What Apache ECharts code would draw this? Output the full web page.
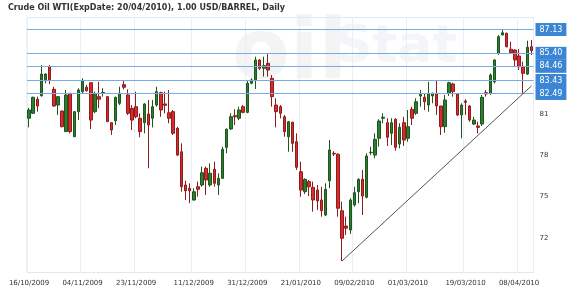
<!DOCTYPE html>
<html><head><meta charset="utf-8">
<script src="https://cdn.jsdelivr.net/npm/echarts@6/dist/echarts.min.js"></script>
<style>html,body{margin:0;padding:0;background:#fff}#c{width:570px;height:291px}</style>
</head><body><div id="c"></div>
<script>
var dates = ['16/10/2009','19/10/2009','20/10/2009','21/10/2009','22/10/2009','23/10/2009','26/10/2009','27/10/2009','28/10/2009','29/10/2009','30/10/2009',
'02/11/2009','03/11/2009','04/11/2009','05/11/2009','06/11/2009','09/11/2009','10/11/2009','11/11/2009','12/11/2009','13/11/2009',
'16/11/2009','17/11/2009','18/11/2009','19/11/2009','20/11/2009','23/11/2009','24/11/2009','25/11/2009','26/11/2009','27/11/2009',
'30/11/2009','01/12/2009','02/12/2009','03/12/2009','04/12/2009','07/12/2009','08/12/2009','09/12/2009','10/12/2009','11/12/2009',
'14/12/2009','15/12/2009','16/12/2009','17/12/2009','18/12/2009','21/12/2009','22/12/2009','23/12/2009','24/12/2009','28/12/2009',
'29/12/2009','30/12/2009','31/12/2009','04/01/2010','05/01/2010','06/01/2010','07/01/2010','08/01/2010','11/01/2010','12/01/2010',
'13/01/2010','14/01/2010','15/01/2010','19/01/2010','20/01/2010','21/01/2010','22/01/2010','25/01/2010','26/01/2010','27/01/2010',
'28/01/2010','29/01/2010','01/02/2010','02/02/2010','03/02/2010','04/02/2010','05/02/2010','08/02/2010','09/02/2010','10/02/2010',
'11/02/2010','12/02/2010','16/02/2010','17/02/2010','18/02/2010','19/02/2010','22/02/2010','23/02/2010','24/02/2010','25/02/2010',
'26/02/2010','01/03/2010','02/03/2010','03/03/2010','04/03/2010','05/03/2010','08/03/2010','09/03/2010','10/03/2010','11/03/2010',
'12/03/2010','15/03/2010','16/03/2010','17/03/2010','18/03/2010','19/03/2010','22/03/2010','23/03/2010','24/03/2010','25/03/2010',
'26/03/2010','29/03/2010','30/03/2010','31/03/2010','01/04/2010','05/04/2010','06/04/2010','07/04/2010','08/04/2010','09/04/2010',
'12/04/2010','13/04/2010'];

var opens = [80.69,81.05,82.07,82.33,83.42,84.43,82.79,81.65,81.22,79.72,82.50,79.35,81.17,82.62,82.94,83.27,81.17,82.26,82.52,82.26,
80.37,80.51,81.78,83.13,82.38,81.41,81.53,80.69,80.37,81.00,80.69,81.65,82.55,81.73,81.09,81.17,79.96,78.26,75.85,75.61,
74.76,75.72,75.85,77.06,75.85,76.99,75.85,76.33,78.58,79.91,80.88,80.69,81.53,81.12,83.23,83.42,84.92,84.32,84.68,83.59,
81.65,81.53,80.80,79.35,80.40,78.99,76.81,75.36,76.09,75.68,75.48,74.76,73.67,76.16,78.15,78.08,73.98,72.87,72.58,74.40,
75.36,76.26,74.96,78.20,78.02,79.24,80.69,80.37,79.60,80.62,78.82,80.37,79.24,81.34,81.05,82.31,82.21,81.65,82.31,82.50,
81.58,80.08,82.50,83.18,82.45,80.93,81.94,81.58,80.27,80.13,80.27,82.55,82.50,83.34,85.40,86.73,86.86,85.70,85.64,85.21,
84.43,83.90,85.88];
var closes = [81.29,82.21,81.58,83.90,83.90,83.47,81.58,82.26,80.08,82.38,79.72,81.17,82.74,83.42,82.69,80.56,82.50,82.07,82.56,80.44,
79.84,82.21,82.50,82.94,81.05,80.56,80.80,79.72,81.73,80.20,81.53,82.62,81.29,81.63,80.69,79.60,78.02,75.72,75.43,75.43,
75.36,75.54,76.74,76.21,76.70,75.97,76.33,78.44,79.89,80.80,80.80,81.29,81.12,83.23,83.47,84.92,84.32,84.51,84.19,82.26,
81.17,81.05,79.72,80.44,78.87,77.13,75.48,76.26,75.72,74.76,74.69,73.98,75.54,78.39,78.10,74.16,71.98,72.71,74.76,75.29,
76.26,75.05,77.95,78.22,79.16,80.49,80.76,79.31,80.37,78.58,80.03,79.11,80.08,80.69,81.89,82.43,81.89,82.50,82.50,81.58,
80.08,82.02,83.27,82.62,80.93,81.65,81.85,80.56,80.56,80.03,82.21,82.45,83.83,84.92,86.61,86.90,85.88,85.45,84.92,84.43,
83.95,85.84,85.59];
var lows = [80.03,81.00,81.17,82.26,83.23,83.16,81.53,80.93,80.03,79.72,79.60,79.35,80.56,82.50,82.62,79.91,81.05,81.41,82.26,80.44,
79.48,80.20,81.65,82.79,80.93,79.84,80.69,79.31,79.60,77.06,80.03,81.53,80.80,81.05,80.33,79.48,77.95,75.36,74.76,74.52,
74.71,75.00,75.72,75.12,75.72,75.72,75.12,76.28,78.15,79.84,80.20,80.56,81.05,81.05,83.16,82.81,84.19,83.71,83.71,81.53,
80.03,80.69,79.35,78.26,78.26,76.94,75.00,75.19,75.05,73.91,74.03,73.55,73.60,75.61,77.95,73.55,70.33,72.22,72.30,74.27,
74.52,73.67,74.88,78.02,77.79,78.63,80.33,78.68,78.75,78.34,78.51,78.68,78.99,80.20,80.93,81.53,81.29,81.17,81.78,80.93,
79.48,79.64,82.31,82.26,80.85,79.24,80.93,80.44,80.20,79.60,80.13,82.26,82.38,83.23,85.28,86.73,85.84,85.40,84.48,84.19,
82.49,83.83,85.28];
var highs = [81.44,82.26,82.26,84.56,83.95,84.56,82.98,82.26,81.22,82.74,82.50,81.17,82.87,83.59,83.10,83.27,82.62,83.34,82.87,82.26,
80.37,82.26,82.98,83.42,82.79,81.65,82.62,81.05,81.78,82.02,82.02,82.98,82.62,82.62,82.74,81.29,80.08,78.87,76.16,75.97,
75.61,76.09,77.18,77.18,77.42,77.54,76.70,78.63,79.96,81.05,81.34,81.53,81.65,83.47,83.59,85.16,84.97,85.16,85.40,83.83,
82.14,81.65,80.93,80.50,80.45,79.60,77.54,76.33,76.21,76.09,75.85,75.72,75.97,79.11,78.30,78.15,74.64,73.55,74.88,75.72,
76.33,76.94,78.15,78.63,79.60,80.62,81.05,80.69,80.69,80.69,80.33,80.80,81.29,81.53,82.14,82.74,82.50,83.34,82.55,83.42,
81.58,82.38,83.34,83.27,82.50,81.78,82.07,81.65,80.80,80.44,82.38,82.74,83.95,84.97,86.73,87.13,86.90,86.25,85.70,85.70,
84.80,86.32,86.37];

var tickLabels = ['16/10/2009','04/11/2009','23/11/2009','11/12/2009','31/12/2009','21/01/2010','09/02/2010','01/03/2010','19/03/2010','08/04/2010'];
var yLabels = [72, 75, 78, 81];
var levels = [87.13, 85.40, 84.46, 83.43, 82.49];
var trendPoints = [['04/02/2010', 70.33], ['13/04/2010', 83.04]];

var ohlc = dates.map(function (d, i) { return [opens[i], closes[i], lows[i], highs[i]]; });
var isTick = function (i, v) { return tickLabels.indexOf(v !== undefined ? v : dates[i]) >= 0; };

var markData = levels.map(function (v) {
  return { yAxis: v, lineStyle: { color: '#78acdf', width: 1, type: 'solid' },
    label: { show: true, position: 'end', distance: 2, formatter: v.toFixed(2),
      backgroundColor: '#3a86d4', color: '#ffffff', fontSize: 8, fontFamily: 'DejaVu Sans',
      padding: [1, 4], lineHeight: 11 } };
});
markData.push([
  { coord: trendPoints[0], lineStyle: { color: '#555', width: 1, type: 'solid' }, label: { show: false } },
  { coord: trendPoints[1] }
]);

var chart = echarts.init(document.getElementById('c'), null, { renderer: 'canvas' });
chart.setOption({
  animation: false,
  backgroundColor: '#ffffff',
  title: { text: 'Crude Oil WTI(ExpDate: 20/04/2010), 1.00 USD/BARREL, Daily', left: 8, top: 4, padding: 0,
    textStyle: { fontSize: 8, fontWeight: 'bold', color: '#333', fontFamily: 'DejaVu Sans' } },
  graphic: [
    { type: 'text', left: 232, top: 14, z: -10, silent: true,
      style: { text: 'oil', fontSize: 84, fontWeight: 'bold', fill: '#f4f4f4', fontFamily: 'DejaVu Sans' } },
    { type: 'text', left: 335, top: 22, z: -10, silent: true,
      style: { text: 'Stat', fontSize: 52, fontWeight: 'bold', fill: '#f3f5f8', fontFamily: 'DejaVu Sans' } }
  ],
  grid: { left: 27, width: 506.5, top: 17.54, bottom: 18.53, show: true, borderColor: '#dfe8f3', borderWidth: 1, backgroundColor: 'transparent' },
  xAxis: {
    type: 'category', data: dates, boundaryGap: true,
    axisLine: { show: false }, axisTick: { show: false },
    axisLabel: { interval: isTick, color: '#333', fontSize: 7, fontFamily: 'DejaVu Sans', margin: 7 },
    splitLine: { show: true, interval: isTick, lineStyle: { color: '#e8eff8', width: 1 } }
  },
  yAxis: {
    type: 'value', position: 'right', min: 69.5, max: 88, interval: 0.5, scale: true,
    axisLine: { show: false }, axisTick: { show: false }, splitLine: { show: false },
    axisLabel: { color: '#333', fontSize: 7, fontFamily: 'DejaVu Sans', margin: 6,
      formatter: function (v) { return yLabels.indexOf(v) >= 0 ? String(v) : ''; } }
  },
  series: [{
    type: 'candlestick', data: ohlc, barWidth: 3,
    itemStyle: { color: '#2e7d2e', color0: '#d92b2b', borderColor: '#1e541e', borderColor0: '#8f1c1c', borderWidth: 1 },
    markLine: { silent: true, symbol: ['none', 'none'], animation: false, data: markData }
  }]
});
</script></body></html>
